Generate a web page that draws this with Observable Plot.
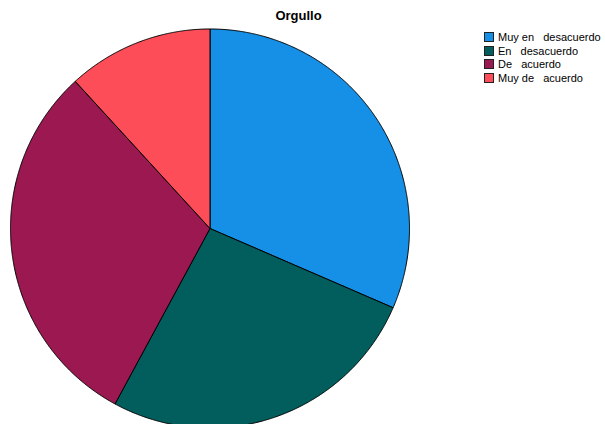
<!DOCTYPE html>
<html>
<head>
<meta charset="utf-8">
<script src="https://cdn.jsdelivr.net/npm/d3@7"></script>
<script src="https://cdn.jsdelivr.net/npm/@observablehq/plot@0.6"></script>
<style>
  html, body { margin: 0; padding: 0; background: #fff; }
  #wrap { position: relative; width: 605px; height: 424px; overflow: hidden; }
  #title { position: absolute; left: 0; width: 597px; top: 8px; text-align: center;
           font: bold 13px Arial, "Liberation Sans", sans-serif; color: #000; }
  #legend { position: absolute; left: 484px; top: 30px;
            font: 11px Arial, "Liberation Sans", sans-serif; color: #000; }
  .row { display: flex; align-items: center; height: 13.7px; white-space: pre; }
  .sw { width: 8px; height: 8px; border: 1px solid #222; margin-right: 4px; flex: none; }
  #chart { position: absolute; left: 0; top: 0; }
</style>
</head>
<body>
<div id="wrap">
  <div id="chart"></div>
  <div id="title"></div>
  <div id="legend"></div>
</div>
<script>
const title = "Orgullo";
const categories = ["Muy en   desacuerdo", "En   desacuerdo", "De   acuerdo", "Muy de   acuerdo"];
const values = [31.5, 26.4, 30.3, 11.8];
const colors = ["#1590e6", "#015e5d", "#9b1850", "#fc4d59"];

document.getElementById("title").textContent = title;

// Build slice outlines from pie angles (clockwise from 12 o'clock)
const pie = d3.pie().sort(null).value(d => d.value)(categories.map((c, i) => ({cat: c, value: values[i]})));
const pts = [];
pie.forEach((s) => {
  const cat = s.data.cat;
  pts.push({cat, x: 0, y: 0});
  const steps = Math.max(2, Math.ceil((s.endAngle - s.startAngle) / 0.005));
  for (let k = 0; k <= steps; k++) {
    const a = s.startAngle + (s.endAngle - s.startAngle) * k / steps;
    pts.push({cat, x: Math.sin(a), y: Math.cos(a)});
  }
  pts.push({cat, x: 0, y: 0});
});

const chart = Plot.plot({
  width: 605,
  height: 424,
  margin: 0,
  x: {domain: [-1, 1], range: [10, 409], axis: null},
  y: {domain: [-1, 1], range: [427.5, 28.5], axis: null},
  color: {domain: categories, range: colors},
  marks: [
    Plot.line(pts, {x: "x", y: "y", z: "cat", fill: "cat", stroke: "#000", strokeWidth: 1, strokeLinejoin: "miter", curve: "linear"})
  ]
});
document.getElementById("chart").appendChild(chart);

const leg = document.getElementById("legend");
categories.forEach((c, i) => {
  const row = document.createElement("div");
  row.className = "row";
  const sw = document.createElement("span");
  sw.className = "sw";
  sw.style.background = colors[i];
  const t = document.createElement("span");
  t.textContent = c;
  row.appendChild(sw);
  row.appendChild(t);
  leg.appendChild(row);
});
</script>
</body>
</html>
